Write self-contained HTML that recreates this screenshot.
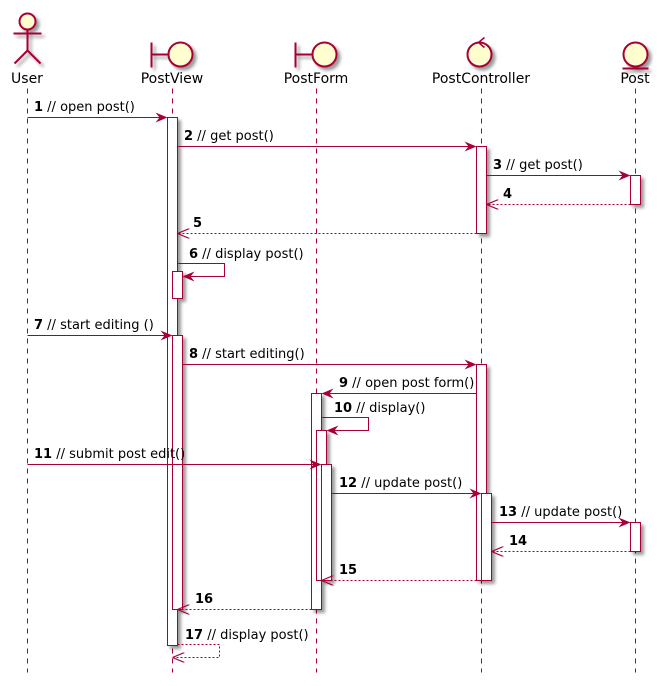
<!DOCTYPE html>
<html><head><meta charset="utf-8"><style>
body{margin:0;background:#fff}
svg text{font-family:"DejaVu Sans","Liberation Sans",sans-serif;fill:#000}
</style></head><body>
<svg width="659" height="681" xmlns="http://www.w3.org/2000/svg">
<defs>
<marker id="a" viewBox="0 0 12 10" refX="11" refY="5" markerWidth="12" markerHeight="10" markerUnits="userSpaceOnUse" orient="auto"><path d="M0,0 L12,5 L0,10 L4,5 Z" fill="#A80036"/></marker>
<marker id="o" viewBox="0 0 12 10" refX="11" refY="5" markerWidth="12" markerHeight="10" markerUnits="userSpaceOnUse" orient="auto"><path d="M0,0 L12,5 L0,10" fill="none" stroke="#A80036" stroke-width="1.2"/></marker>
<filter id="sh" x="-50%" y="-10%" width="200%" height="130%"><feGaussianBlur in="SourceAlpha" stdDeviation="1.5"/><feOffset dx="3" dy="3"/><feComponentTransfer><feFuncA type="linear" slope="0.4"/></feComponentTransfer><feMerge><feMergeNode/><feMergeNode in="SourceGraphic"/></feMerge></filter>
</defs>
<g transform="translate(0.5,0.5)">
<g stroke="#A80036" stroke-width="1" stroke-dasharray="5,5">
<line x1="27" y1="88" x2="27" y2="672"/><line x1="172" y1="88" x2="172" y2="672"/><line x1="316" y1="88" x2="316" y2="672"/><line x1="481" y1="88" x2="481" y2="672"/><line x1="635" y1="88" x2="635" y2="672"/>
</g>
<g fill="#FEFECE" stroke="#A80036" stroke-width="2" filter="url(#sh)">
<g><circle cx="27" cy="21" r="8"/>
<line x1="27" y1="29" x2="27" y2="50"/><line x1="13" y1="33" x2="41" y2="33"/><line x1="27" y1="50" x2="14" y2="63"/><line x1="27" y1="50" x2="40" y2="63"/></g>
<g><line x1="151" y1="42" x2="151" y2="67"/><line x1="151" y1="54" x2="168" y2="54"/><circle cx="180" cy="54" r="12"/></g>
<g><line x1="295" y1="42" x2="295" y2="67"/><line x1="295" y1="54" x2="312" y2="54"/><circle cx="324" cy="54" r="12"/></g>
<circle cx="479" cy="54" r="12"/>
<g><circle cx="635" cy="54" r="12"/><line x1="622" y1="68" x2="648" y2="68"/></g>
</g>
<path d="M484,37 L478,42 L484,47" fill="none" stroke="#A80036" stroke-width="1.5"/>
<g fill="#fff" stroke="#A80036" stroke-width="1" filter="url(#sh)">
<rect x="167" y="117" width="10" height="528"/>
<rect x="172" y="271" width="10" height="27"/>
<rect x="172" y="335" width="10" height="274"/>
<rect x="311" y="393" width="10" height="216"/>
<rect x="316" y="430" width="10" height="150"/>
<rect x="321" y="464" width="10" height="116"/>
<rect x="476" y="146" width="10" height="87"/>
<rect x="476" y="364" width="10" height="216"/>
<rect x="481" y="493" width="10" height="87"/>
<rect x="630" y="175" width="10" height="29"/>
<rect x="630" y="522" width="10" height="29"/>
</g>
<g stroke="#A80036" stroke-width="1" fill="none">
<line x1="27" y1="117" x2="166" y2="117" marker-end="url(#a)"/>
<line x1="177" y1="146" x2="475" y2="146" marker-end="url(#a)"/>
<line x1="486" y1="175" x2="629" y2="175" marker-end="url(#a)"/>
<line x1="630" y1="204" x2="487" y2="204" stroke-dasharray="2,2" marker-end="url(#o)"/>
<line x1="476" y1="233" x2="178" y2="233" stroke-dasharray="2,2" marker-end="url(#o)"/>
<polyline points="177,263 224,263 224,276 183,276" marker-end="url(#a)"/>
<line x1="27" y1="335" x2="171" y2="335" marker-end="url(#a)"/>
<line x1="182" y1="364" x2="475" y2="364" marker-end="url(#a)"/>
<line x1="476" y1="393" x2="322" y2="393" marker-end="url(#a)"/>
<polyline points="321,417 368,417 368,430 327,430" marker-end="url(#a)"/>
<line x1="27" y1="464" x2="320" y2="464" marker-end="url(#a)"/>
<line x1="331" y1="493" x2="480" y2="493" marker-end="url(#a)"/>
<line x1="491" y1="522" x2="629" y2="522" marker-end="url(#a)"/>
<line x1="630" y1="551" x2="492" y2="551" stroke-dasharray="2,2" marker-end="url(#o)"/>
<line x1="476" y1="580" x2="322" y2="580" stroke-dasharray="2,2" marker-end="url(#o)"/>
<line x1="311" y1="609" x2="178" y2="609" stroke-dasharray="2,2" marker-end="url(#o)"/>
<polyline points="177,644 219,644 219,657 173,657" stroke-dasharray="2,2" marker-end="url(#o)"/>
</g>
</g>
<g font-size="14" text-anchor="middle">
<text x="27" y="83">User</text><text x="172" y="83">PostView</text><text x="316" y="83">PostForm</text><text x="481" y="83">PostController</text><text x="635" y="83">Post</text>
</g>
<g font-size="13">
<text x="34" y="111"><tspan font-weight="bold">1</tspan> // open post()</text>
<text x="184" y="140"><tspan font-weight="bold">2</tspan> // get post()</text>
<text x="493" y="169"><tspan font-weight="bold">3</tspan> // get post()</text>
<text x="503" y="198"><tspan font-weight="bold">4</tspan></text>
<text x="193" y="227"><tspan font-weight="bold">5</tspan></text>
<text x="189" y="258"><tspan font-weight="bold">6</tspan> // display post()</text>
<text x="34" y="329"><tspan font-weight="bold">7</tspan> // start editing ()</text>
<text x="189" y="358"><tspan font-weight="bold">8</tspan> // start editing()</text>
<text x="339" y="387"><tspan font-weight="bold">9</tspan> // open post form()</text>
<text x="334" y="412"><tspan font-weight="bold">10</tspan> // display()</text>
<text x="34" y="458"><tspan font-weight="bold">11</tspan> // submit post edit()</text>
<text x="339" y="487"><tspan font-weight="bold">12</tspan> // update post()</text>
<text x="499" y="516"><tspan font-weight="bold">13</tspan> // update post()</text>
<text x="509" y="545"><tspan font-weight="bold">14</tspan></text>
<text x="339" y="574"><tspan font-weight="bold">15</tspan></text>
<text x="195" y="603"><tspan font-weight="bold">16</tspan></text>
<text x="185" y="639"><tspan font-weight="bold">17</tspan> // display post()</text>
</g>
</svg>
</body></html>
